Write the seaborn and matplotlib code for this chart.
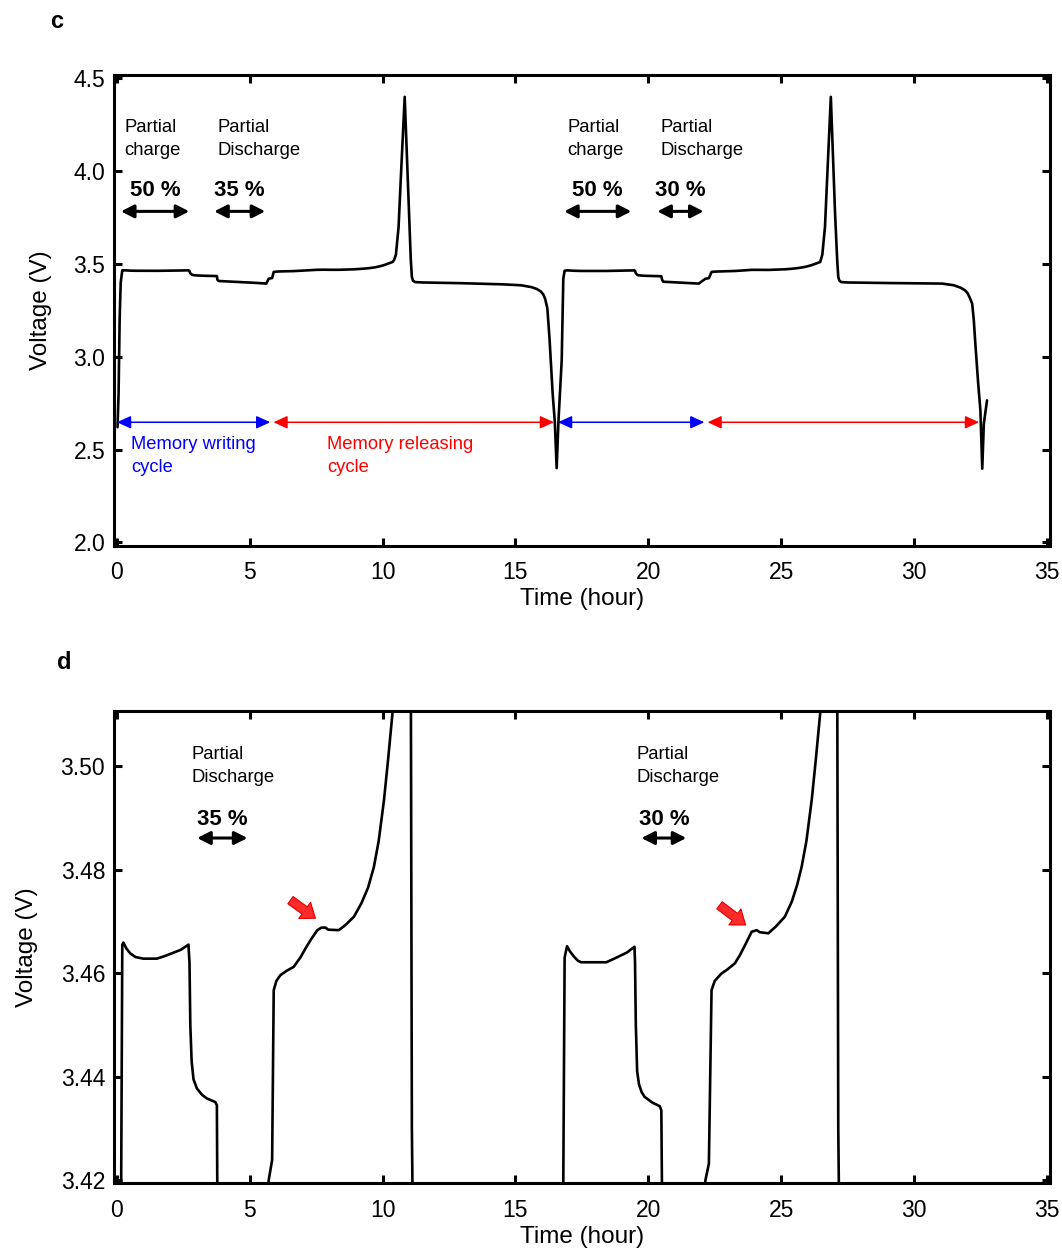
import matplotlib
matplotlib.use("Agg")
import matplotlib.pyplot as plt
import numpy as np
import pandas as pd
import seaborn as sns

# Voltage profile of the memory-effect test (time in hours, voltage in volts)
time_h = [
    0.02, 0.06, 0.10, 0.14, 0.20, 0.24, 0.35, 0.50, 0.70, 0.99, 1.50, 1.80, 2.10,
    2.40, 2.69, 2.73, 2.76, 2.81, 2.88, 3.01, 3.20, 3.38, 3.70, 3.76, 3.78, 3.82,
    4.50, 5.20, 5.62, 5.71, 5.84, 5.90, 6.00, 6.15, 6.40, 6.65, 6.90, 7.10, 7.30,
    7.54, 7.70, 7.85, 7.95, 8.35, 8.60, 8.92, 9.20, 9.45, 9.67, 9.85, 10.05, 10.20,
    10.30, 10.37, 10.43, 10.50, 10.60, 10.68, 10.83, 10.92, 10.99, 11.06, 11.10,
    11.14, 11.22, 11.50, 13.00, 14.50, 15.20, 15.60, 15.80, 15.95, 16.05, 16.12,
    16.20, 16.28, 16.40, 16.48, 16.55, 16.62, 16.74, 16.80, 16.85, 16.94, 17.05,
    17.20, 17.35, 17.47, 18.42, 18.80, 19.20, 19.48, 19.50, 19.53, 19.58, 19.65,
    19.75, 19.86, 20.15, 20.43, 20.49, 20.52, 20.56, 21.20, 21.90, 22.15, 22.28,
    22.38, 22.50, 22.75, 23.00, 23.26, 23.45, 23.65, 23.89, 24.08, 24.20, 24.52,
    24.80, 25.14, 25.40, 25.60, 25.77, 25.95, 26.15, 26.30, 26.40, 26.47, 26.55,
    26.65, 26.73, 26.87, 26.96, 27.03, 27.11, 27.15, 27.19, 27.26, 27.50, 29.00,
    30.50, 31.06, 31.50, 31.75, 31.92, 32.02, 32.10, 32.19, 32.25, 32.31, 32.42,
    32.50, 32.57, 32.63, 32.75,
]
voltage_v = [
    2.62, 2.80, 3.20, 3.40, 3.4655, 3.4659, 3.4648, 3.4638, 3.4631, 3.4628, 3.4628,
    3.4633, 3.4639, 3.4645, 3.4655, 3.462, 3.450, 3.443, 3.4395, 3.4377, 3.4365,
    3.4358, 3.4351, 3.4345, 3.415, 3.408, 3.403, 3.398, 3.394, 3.420, 3.4239,
    3.4567, 3.4585, 3.4596, 3.4605, 3.4612, 3.4630, 3.4648, 3.4665, 3.4683, 3.4688,
    3.4688, 3.4684, 3.4683, 3.4693, 3.4709, 3.4735, 3.4765, 3.4805, 3.4855, 3.4934,
    3.501, 3.5065, 3.5102, 3.52, 3.55, 3.70, 3.95, 4.40, 4.05, 3.77, 3.52, 3.43,
    3.41, 3.402, 3.400, 3.396, 3.390, 3.385, 3.375, 3.365, 3.352, 3.335, 3.310,
    3.260, 3.100, 2.800, 2.650, 2.400, 2.660, 2.980, 3.420, 3.463, 3.4652, 3.4642,
    3.4632, 3.4624, 3.4621, 3.4621, 3.4630, 3.4640, 3.4651, 3.462, 3.450, 3.441,
    3.4385, 3.4370, 3.4361, 3.4350, 3.4343, 3.4335, 3.415, 3.404, 3.399, 3.394,
    3.420, 3.4232, 3.4567, 3.4585, 3.4599, 3.4608, 3.4619, 3.4635, 3.4655, 3.4680,
    3.4683, 3.4679, 3.4677, 3.4690, 3.4709, 3.4738, 3.4770, 3.4805, 3.4855, 3.4934,
    3.501, 3.5065, 3.5102, 3.55, 3.70, 3.95, 4.40, 4.05, 3.77, 3.52, 3.43, 3.41,
    3.402, 3.400, 3.397, 3.395, 3.394, 3.385, 3.372, 3.358, 3.342, 3.318, 3.286,
    3.200, 3.070, 2.850, 2.711, 2.397, 2.640, 2.765,
]

x_ticks = [0, 5, 10, 15, 20, 25, 30, 35]
y_ticks_full = [2.0, 2.5, 3.0, 3.5, 4.0, 4.5]
y_ticks_zoom = [3.42, 3.44, 3.46, 3.48, 3.50]

# Step annotations: (label, percent label, arrow start, arrow end)
steps_c = [
    ("Partial\ncharge", "50 %", 0.15, 2.72),
    ("Partial\nDischarge", "35 %", 3.66, 5.58),
    ("Partial\ncharge", "50 %", 16.83, 19.36),
    ("Partial\nDischarge", "30 %", 20.34, 22.08),
]
steps_d = [
    ("Partial\nDischarge", "35 %", 3.02, 4.91),
    ("Partial\nDischarge", "30 %", 19.74, 21.43),
]
# Cycle spans: (start, end, label, colour)
cycles = [
    (0.0, 5.77, "Memory writing\ncycle", "#0000ff"),
    (5.89, 16.45, "Memory releasing\ncycle", "#ff0000"),
    (16.60, 22.11, None, "#0000ff"),
    (22.23, 32.45, None, "#ff0000"),
]
# Red pointer arrows at the plateau bump: (tail t, tail V, head t, head V)
bumps = [(6.53, 3.4741, 7.47, 3.4706), (22.68, 3.4731, 23.66, 3.4693)]

df = pd.DataFrame({"Time (hour)": time_h, "Voltage (V)": voltage_v})

sns.set_theme(style="ticks")
plt.rcParams["font.family"] = ["Liberation Sans", "DejaVu Sans"]
plt.rcParams.update({
    "axes.linewidth": 2.2,
    "text.color": "black",
    "axes.labelcolor": "black",
    "xtick.color": "black",
    "ytick.color": "black",
})

fig = plt.figure(figsize=(10.62, 12.49), dpi=100)
ax_c = fig.add_axes([0.1069, 0.5631, 0.8818, 0.3769])
ax_d = fig.add_axes([0.1069, 0.0526, 0.8818, 0.3784])

for ax in (ax_c, ax_d):
    sns.lineplot(data=df, x="Time (hour)", y="Voltage (V)", ax=ax, color="black",
                 linewidth=1.9, sort=False, estimator=None)
    ax.set_xlim(-0.13, 35.12)
    ax.set_xticks(x_ticks)
    ax.set_xticklabels([str(v) for v in x_ticks])
    ax.tick_params(direction="in", top=True, right=True, length=6, width=2.2,
                   labelsize=16.5, colors="black")
    ax.tick_params(axis="x", pad=11)
    ax.tick_params(axis="y", pad=6)
    ax.set_xlabel("Time (hour)", fontsize=17.5, labelpad=3)
    for sp in ax.spines.values():
        sp.set_color("black")
        sp.set_linewidth(2.2)

ax_c.set_ylabel("Voltage (V)", fontsize=17.5, labelpad=15)
ax_d.set_ylabel("Voltage (V)", fontsize=17.5, labelpad=16)

ax_c.set_ylim(1.982, 4.518)
ax_c.set_yticks(y_ticks_full)
ax_c.set_yticklabels([f"{v:.1f}" for v in y_ticks_full])

ax_d.set_ylim(3.4194, 3.5107)
ax_d.set_yticks(y_ticks_zoom)
ax_d.set_yticklabels([f"{v:.2f}" for v in y_ticks_zoom])

black_arrow = dict(arrowstyle="<|-|>,head_length=0.55,head_width=0.28", color="black",
                   lw=2.2, shrinkA=0, shrinkB=0, mutation_scale=14)

# Panel c annotations
for label, pct, t0, t1 in steps_c:
    ax_c.text(t0 + 0.12, 4.28, label, fontsize=13.3, ha="left", va="top",
              linespacing=1.45)
    ax_c.text((t0 + t1) / 2, 3.897, pct, fontsize=16, fontweight="bold",
              ha="center", va="center")
    ax_c.annotate("", xy=(t1, 3.783), xytext=(t0, 3.783), arrowprops=black_arrow)

for t0, t1, label, col in cycles:
    ax_c.annotate("", xy=(t1, 2.647), xytext=(t0, 2.647),
                  arrowprops=dict(arrowstyle="<|-|>,head_length=0.7,head_width=0.32",
                                  color=col, lw=1.1, shrinkA=0, shrinkB=0,
                                  mutation_scale=12))
    if label:
        tx = 0.53 if col == "#0000ff" else 7.92
        ax_c.text(tx, 2.574, label, fontsize=13.2, color=col, ha="left", va="top",
                  linespacing=1.45)

# Panel d annotations
for label, pct, t0, t1 in steps_d:
    ax_d.text(t0 - 0.2, 3.5038, label, fontsize=13.3, ha="left", va="top",
              linespacing=1.45)
    ax_d.text((t0 + t1) / 2, 3.4896, pct, fontsize=16, fontweight="bold",
              ha="center", va="center")
    ax_d.annotate("", xy=(t1, 3.4861), xytext=(t0, 3.4861), arrowprops=black_arrow)

for t0, v0, t1, v1 in bumps:
    ax_d.annotate("", xy=(t1, v1), xytext=(t0, v0),
                  arrowprops=dict(arrowstyle="simple,head_length=0.6,head_width=0.9,tail_width=0.4",
                                  facecolor="#ff2a2a", edgecolor="#e00000", lw=0.8,
                                  shrinkA=0, shrinkB=0, mutation_scale=16))

fig.text(57 / 1062, 1 - 22 / 1249, "c", fontsize=17, fontweight="bold",
         ha="center", va="center")
fig.text(64 / 1062, 1 - 662 / 1249, "d", fontsize=17, fontweight="bold",
         ha="center", va="center")

fig.savefig("out.png", dpi=100)
